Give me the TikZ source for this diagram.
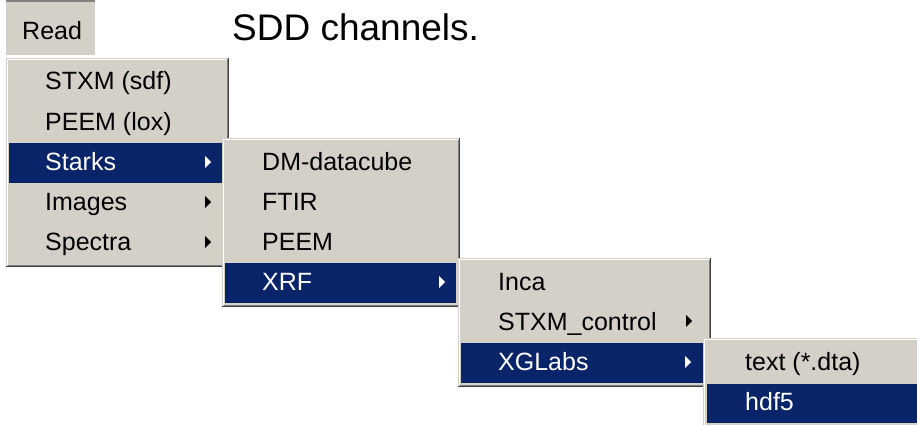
\documentclass[tikz,border=0pt]{standalone}
\usepackage{fontspec}
\setmainfont{Liberation Sans}
\definecolor{mgray}{HTML}{D4D0C8}
\definecolor{mnavy}{HTML}{0A246A}
\definecolor{mshadow}{HTML}{808080}
\definecolor{mdark}{HTML}{404040}
\newcommand\menupanel[4]{%
  \fill[mgray] (#1,#2) rectangle (#3,#4);
  \draw[white, line width=1pt] (#1+1.5,#4-2) -- (#1+1.5,#2+1.5) -- (#3-2,#2+1.5);
  \draw[mshadow, line width=1pt] (#1+1.5,#4-1.5) -- (#3-1.5,#4-1.5) -- (#3-1.5,#2+1.5);
  \draw[mdark, line width=1pt] (#1,#4-0.5) -- (#3-0.5,#4-0.5) -- (#3-0.5,#2);
}
\tikzset{
  menutext/.style={anchor=base west, inner sep=0pt, font=\fontsize{25}{28}\selectfont, text=black},
  seltext/.style={menutext, text=white},
  selrow/.style={fill=mnavy},
  subarrow/.style={fill=black},
  subarrowsel/.style={fill=white},
}
\begin{document}
\begin{tikzpicture}[x=1pt, y=-1pt]
\useasboundingbox (0,0) rectangle (917,425);
\fill[white] (0,0) rectangle (917,425);

% Read button
\fill[mgray] (6,0) rectangle (95,55);
\draw[mshadow, line width=2pt] (6,1) -- (95,1);
\node[menutext] (read) at (22,40) {Read};

% heading text
\node[anchor=base west, inner sep=0pt, font=\fontsize{37}{40}\selectfont] (title) at (232,41) {SDD channels.};

% Menu 1
\menupanel{6}{58}{229}{267}
\fill[selrow] (9,143) rectangle (225,183);
\node[menutext] (m1a) at (45,90) {STXM (sdf)};
\node[menutext] (m1b) at (45,130) {PEEM (lox)};
\node[seltext]  (m1c) at (45,170) {Starks};
\node[menutext] (m1d) at (45,210) {Images};
\node[menutext] (m1e) at (45,250) {Spectra};
\fill[subarrowsel] (211,162) -- (205,156) -- (205,168) -- cycle;
\fill[subarrow] (211,202) -- (205,196) -- (205,208) -- cycle;
\fill[subarrow] (211,242) -- (205,236) -- (205,248) -- cycle;

% Menu 2
\menupanel{222}{138}{460}{307}
\fill[selrow] (225,263) rectangle (456,303);
\node[menutext] (m2a) at (262,170) {DM-datacube};
\node[menutext] (m2b) at (262,210) {FTIR};
\node[menutext] (m2c) at (262,250) {PEEM};
\node[seltext]  (m2d) at (262,290) {XRF};
\fill[subarrowsel] (445,282) -- (439,276) -- (439,288) -- cycle;

% Menu 3
\menupanel{458}{258}{711}{387}
\fill[selrow] (461,343) rectangle (707,383);
\node[menutext] (m3a) at (498,290) {Inca};
\node[menutext] (m3b) at (498,330) {STXM\_control};
\node[seltext]  (m3c) at (498,370) {XGLabs};
\fill[subarrow] (692,321) -- (686,315) -- (686,327) -- cycle;
\fill[subarrowsel] (691,362) -- (685,356) -- (685,368) -- cycle;

% Menu 4
\fill[mgray] (703,338) rectangle (917,425);
\draw[white, line width=1pt] (704.5,425) -- (704.5,339.5) -- (917,339.5);
\fill[selrow] (707,384) rectangle (917,423);
\node[menutext] (m4a) at (745,370) {text (*.dta)};
\node[seltext]  (m4b) at (745,410) {hdf5};
\end{tikzpicture}
\end{document}
